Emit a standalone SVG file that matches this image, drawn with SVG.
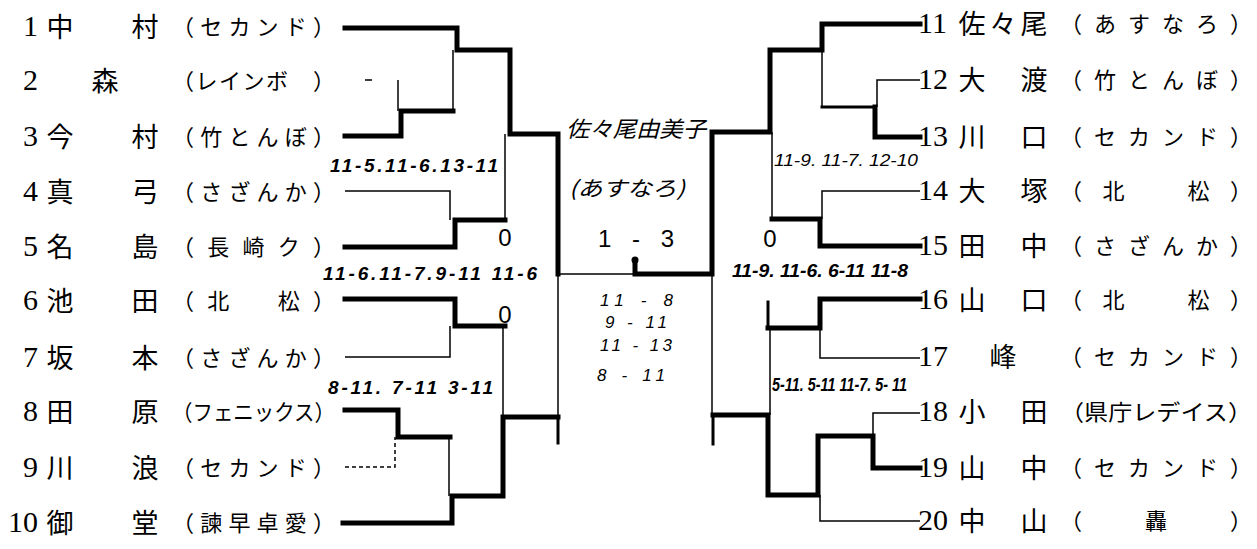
<svg xmlns="http://www.w3.org/2000/svg" width="1257" height="549" viewBox="0 0 1257 549">
<style>
.bg{fill:#fff}
.tk{fill:none;stroke:#000;stroke-width:5;stroke-linecap:square;stroke-linejoin:miter}
.md{fill:none;stroke:#000;stroke-width:3;stroke-linecap:square}
.tn{fill:none;stroke:#000;stroke-width:1.5}
.dt{fill:none;stroke:#000;stroke-width:1.5;stroke-dasharray:4 3}
.num{font-family:"Liberation Serif",serif;font-size:30px;fill:#000;dominant-baseline:central}
.nm{font-family:"Noto Sans CJK JP",sans-serif;font-size:27px;fill:#000;dominant-baseline:central;text-anchor:middle}
.af{font-family:"Noto Sans CJK JP",sans-serif;font-size:22px;fill:#000;dominant-baseline:central}
.sc{font-family:"Liberation Sans",sans-serif;font-size:19px;font-style:italic;font-weight:bold;fill:#000;dominant-baseline:central}
.sr{font-family:"Liberation Sans",sans-serif;font-size:17px;font-style:italic;fill:#000;dominant-baseline:central}
.hw{font-family:"Noto Sans CJK JP",sans-serif;font-style:italic;fill:#000;dominant-baseline:central;text-anchor:middle}
.zr{font-family:"Liberation Sans",sans-serif;font-size:24px;fill:#000;dominant-baseline:central;text-anchor:middle}
</style>
<rect class="bg" x="0" y="0" width="1257" height="549"/>

<g id="connectors">
  <!-- left top -->
  <path class="tk" d="M345,28 H457 V50 H510 V134 H558 V274"/>
  <path class="tk" d="M345,136 H401 V111 H453"/>
  <line class="tn" x1="365" y1="80" x2="372" y2="80"/>
  <path class="tn" d="M398,80 V111"/>
  <path class="tn" d="M453,50 V111"/>
  <path class="tn" d="M345,191 H450 V220"/>
  <path class="tk" d="M345,247 H455 V220 H505"/>
  <path class="tn" d="M505,134 V220"/>
  <!-- left bottom -->
  <path class="tk" d="M345,299 H455 V326 H505"/>
  <path class="tn" d="M345,357 H450 V326"/>
  <path class="tn" d="M503,326 V417"/>
  <path class="tk" d="M345,410 H398 V437 H450"/>
  <path class="dt" d="M345,467 H395 V437"/>
  <path class="tn" d="M449,437 V496"/>
  <path class="tk" d="M343,523 H452 V496 H503 V417 H558"/>
  <path class="tn" d="M558,274 V417"/>
  <path class="md" d="M558,419 V443"/>
  <!-- final -->
  <path class="tn" d="M558,274 H633"/>
  <path class="tk" d="M635,261 V274 H712 V132 H770 V50 H822 V24 H920"/>
  <circle cx="635" cy="260" r="3.5" fill="#000"/>
  <path class="tn" d="M712,274 V415"/>
  <path class="md" d="M713,417 V444"/>
  <!-- right top -->
  <path class="tn" d="M920,80 H877 V107"/>
  <path class="tk" d="M920,137 H875 V107"/>
  <path class="md" d="M875,107 H822"/>
  <path class="tn" d="M822,50 V107"/>
  <path class="tn" d="M772,132 V219"/>
  <path class="tn" d="M920,191 H822 V219"/>
  <path class="tk" d="M920,246 H820 V219 H772"/>
  <!-- right bottom -->
  <path class="tk" d="M920,299 H820 V328 H768"/>
  <path class="md" d="M768,302 V328"/>
  <path class="tn" d="M920,358 H820 V328"/>
  <path class="tn" d="M770,328 V415"/>
  <path class="tn" d="M920,413 H873 V436"/>
  <path class="tk" d="M920,468 H873 V436 H818 V495 H768 V415 H713"/>
  <path class="tn" d="M920,521 H820 V495"/>
</g>

<g id="scores">
  <text class="sc" x="330" y="165" textLength="168" lengthAdjust="spacing">11-5.11-6.13-11</text>
  <text class="sc" x="323" y="273" textLength="214" lengthAdjust="spacing">11-6.11-7.9-11 11-6</text>
  <text class="sc" x="328" y="387" textLength="165" lengthAdjust="spacing">8-11. 7-11 3-11</text>
  <text class="sr" x="774" y="160" textLength="144" lengthAdjust="spacingAndGlyphs">11-9. 11-7. 12-10</text>
  <text class="sc" x="732" y="270" textLength="176" lengthAdjust="spacingAndGlyphs">11-9. 11-6. 6-11 11-8</text>
  <text class="sc" x="772" y="384" textLength="135" lengthAdjust="spacingAndGlyphs">5-11. 5-11 11-7. 5- 11</text>
  <text class="zr" x="505" y="237" font-size="26">0</text>
  <text class="zr" x="505" y="314" font-size="26">0</text>
  <text class="zr" x="770" y="238" font-size="26">0</text>
</g>

<g id="final">
  <text class="hw" x="636" y="127" font-size="22" textLength="140" lengthAdjust="spacingAndGlyphs">佐々尾由美子</text>
  <text class="hw" x="627" y="187" font-size="21" textLength="116" lengthAdjust="spacingAndGlyphs">(あすなろ)</text>
  <text class="zr" x="636" y="238" font-size="34" textLength="76" lengthAdjust="spacing">1 - 3</text>
  <text class="sr" x="600" y="300" font-size="21" textLength="73" lengthAdjust="spacing">11 - 8</text>
  <text class="sr" x="605" y="322" font-size="21" textLength="62" lengthAdjust="spacing">9 - 11</text>
  <text class="sr" x="600" y="345" font-size="21" textLength="72" lengthAdjust="spacing">11 - 13</text>
  <text class="sr" x="597" y="375" font-size="21" textLength="68" lengthAdjust="spacing">8 - 11</text>
</g>

<g id="p1"><text class="num" x="38" y="25" text-anchor="end">1</text><text class="nm" x="60" y="25">中</text><text class="nm" x="145" y="25">村</text><text class="af" x="172" y="25" textLength="163" lengthAdjust="spacing">（セカンド）</text></g>
<g id="p2"><text class="num" x="38" y="79" text-anchor="end">2</text><text class="nm" x="105" y="79">森</text><text class="af" x="172" y="79" textLength="163" lengthAdjust="spacing">（レインボ　）</text></g>
<g id="p3"><text class="num" x="38" y="135" text-anchor="end">3</text><text class="nm" x="60" y="135">今</text><text class="nm" x="145" y="135">村</text><text class="af" x="172" y="135" textLength="163" lengthAdjust="spacing">（竹とんぼ）</text></g>
<g id="p4"><text class="num" x="38" y="190" text-anchor="end">4</text><text class="nm" x="60" y="190">真</text><text class="nm" x="145" y="190">弓</text><text class="af" x="172" y="190" textLength="163" lengthAdjust="spacing">（さざんか）</text></g>
<g id="p5"><text class="num" x="38" y="245" text-anchor="end">5</text><text class="nm" x="60" y="245">名</text><text class="nm" x="145" y="245">島</text><text class="af" x="172" y="245" textLength="163" lengthAdjust="spacing">（長崎ク）</text></g>
<g id="p6"><text class="num" x="38" y="299" text-anchor="end">6</text><text class="nm" x="60" y="299">池</text><text class="nm" x="145" y="299">田</text><text class="af" x="172" y="299" textLength="163" lengthAdjust="spacing">（北　松）</text></g>
<g id="p7"><text class="num" x="38" y="356" text-anchor="end">7</text><text class="nm" x="60" y="356">坂</text><text class="nm" x="145" y="356">本</text><text class="af" x="172" y="356" textLength="163" lengthAdjust="spacing">（さざんか）</text></g>
<g id="p8"><text class="num" x="38" y="410" text-anchor="end">8</text><text class="nm" x="60" y="410">田</text><text class="nm" x="145" y="410">原</text><text class="af" x="172" y="410" textLength="163" lengthAdjust="spacingAndGlyphs">（フェニックス）</text></g>
<g id="p9"><text class="num" x="38" y="466" text-anchor="end">9</text><text class="nm" x="60" y="466">川</text><text class="nm" x="145" y="466">浪</text><text class="af" x="172" y="466" textLength="163" lengthAdjust="spacing">（セカンド）</text></g>
<g id="p10"><text class="num" x="38" y="521" text-anchor="end">10</text><text class="nm" x="60" y="521">御</text><text class="nm" x="145" y="521">堂</text><text class="af" x="172" y="521" textLength="163" lengthAdjust="spacing">（諫早卓愛）</text></g>

<g id="p11"><text class="num" x="918" y="22">11</text><text class="nm" x="972" y="22">佐</text><text class="nm" x="1003" y="22">々</text><text class="nm" x="1034" y="22">尾</text><text class="af" x="1060" y="22" textLength="192" lengthAdjust="spacing">（あすなろ）</text></g>
<g id="p12"><text class="num" x="918" y="78">12</text><text class="nm" x="972" y="78">大</text><text class="nm" x="1034" y="78">渡</text><text class="af" x="1060" y="78" textLength="192" lengthAdjust="spacing">（竹とんぼ）</text></g>
<g id="p13"><text class="num" x="918" y="135">13</text><text class="nm" x="972" y="135">川</text><text class="nm" x="1034" y="135">口</text><text class="af" x="1060" y="135" textLength="192" lengthAdjust="spacing">（セカンド）</text></g>
<g id="p14"><text class="num" x="918" y="189">14</text><text class="nm" x="972" y="189">大</text><text class="nm" x="1034" y="189">塚</text><text class="af" x="1060" y="189" textLength="192" lengthAdjust="spacing">（北　松）</text></g>
<g id="p15"><text class="num" x="918" y="244">15</text><text class="nm" x="972" y="244">田</text><text class="nm" x="1034" y="244">中</text><text class="af" x="1060" y="244" textLength="192" lengthAdjust="spacing">（さざんか）</text></g>
<g id="p16"><text class="num" x="918" y="298">16</text><text class="nm" x="972" y="298">山</text><text class="nm" x="1034" y="298">口</text><text class="af" x="1060" y="298" textLength="192" lengthAdjust="spacing">（北　松）</text></g>
<g id="p17"><text class="num" x="918" y="355">17</text><text class="nm" x="1003" y="355">峰</text><text class="af" x="1060" y="355" textLength="192" lengthAdjust="spacing">（セカンド）</text></g>
<g id="p18"><text class="num" x="918" y="410">18</text><text class="nm" x="972" y="410">小</text><text class="nm" x="1034" y="410">田</text><text class="af" x="1060" y="410" textLength="192" lengthAdjust="spacingAndGlyphs">（県庁レデイス）</text></g>
<g id="p19"><text class="num" x="918" y="466">19</text><text class="nm" x="972" y="466">山</text><text class="nm" x="1034" y="466">中</text><text class="af" x="1060" y="466" textLength="192" lengthAdjust="spacing">（セカンド）</text></g>
<g id="p20"><text class="num" x="918" y="519">20</text><text class="nm" x="972" y="519">中</text><text class="nm" x="1034" y="519">山</text><text class="af" x="1060" y="519" textLength="192" lengthAdjust="spacing">（　轟　）</text></g>
</svg>
